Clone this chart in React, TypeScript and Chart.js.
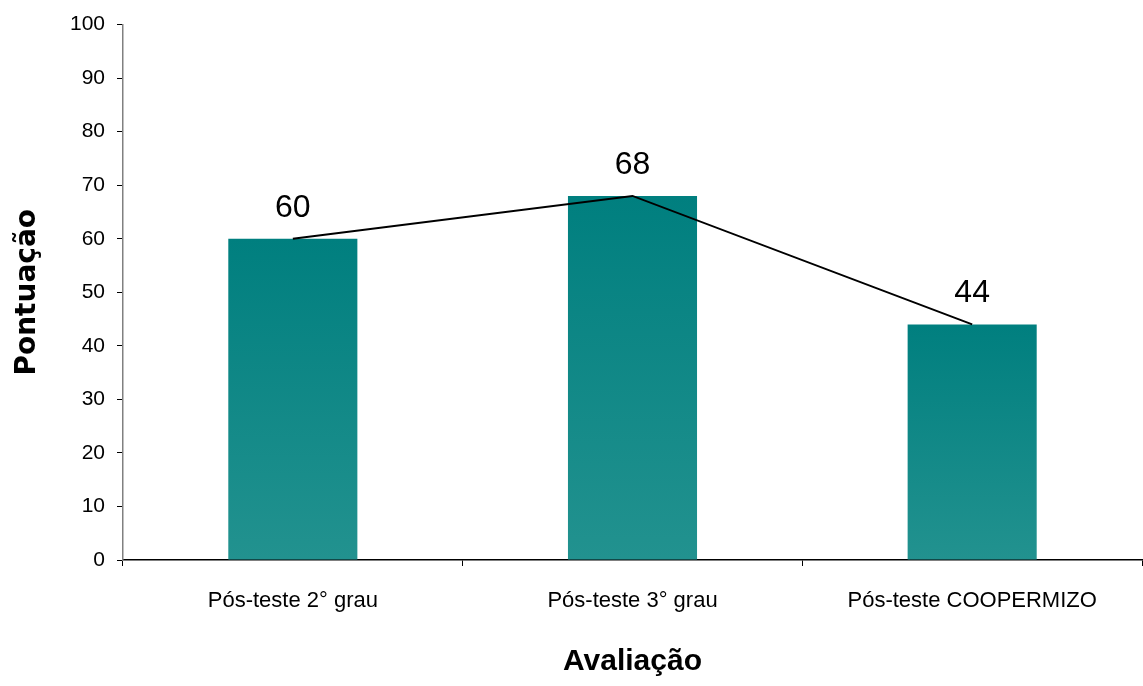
import React, { useEffect, useRef } from "react";
import { Chart, registerables } from "chart.js";

Chart.register(...registerables);

const categories = ["Pós-teste 2° grau", "Pós-teste 3° grau", "Pós-teste COOPERMIZO"];
const scores = [60, 68, 44];
const yTicks = [0, 10, 20, 30, 40, 50, 60, 70, 80, 90, 100];
const yTitle = "Pontuação";
const xTitle = "Avaliação";

const valueLabels = {
  id: "valueLabels",
  afterDatasetsDraw(chart: any) {
    const ctx = chart.ctx;
    const meta = chart.getDatasetMeta(0);
    ctx.save();
    ctx.font = "32px 'Liberation Sans', Arial, sans-serif";
    ctx.fillStyle = "#000";
    ctx.textAlign = "center";
    ctx.textBaseline = "alphabetic";
    meta.data.forEach((el: any, i: number) => {
      ctx.fillText(String(scores[i]), el.x, el.y - 22);
    });
    ctx.restore();
  },
};

export default function App() {
  const ref = useRef<HTMLCanvasElement>(null);
  useEffect(() => {
    const canvas = ref.current!;
    const chart = new Chart(canvas, {
      type: "bar",
      data: {
        labels: categories,
        datasets: [
          {
            type: "bar",
            data: scores,
            barPercentage: 0.76,
            categoryPercentage: 0.5,
            backgroundColor: (c: any) => {
              const ch = c.chart;
              const ys = ch.scales && ch.scales.y;
              if (!ys || c.raw == null) return "#0f8a88";
              const top = ys.getPixelForValue(c.raw);
              const bottom = ys.getPixelForValue(0);
              if (!isFinite(top) || !isFinite(bottom) || top === bottom) return "#0f8a88";
              const g = ch.ctx.createLinearGradient(0, top, 0, bottom);
              g.addColorStop(0, "#007f7f");
              g.addColorStop(1, "#22928f");
              return g;
            },
            borderWidth: 0,
            order: 2,
          },
          {
            type: "line",
            data: scores,
            borderColor: "#000",
            borderWidth: 2,
            pointRadius: 0,
            fill: false,
            tension: 0,
            order: 1,
          } as any,
        ],
      },
      options: {
        responsive: false,
        animation: false,
        layout: { padding: { top: 23, right: 1, bottom: 0, left: 0 } },
        plugins: { legend: { display: false }, tooltip: { enabled: false } },
        scales: {
          x: {
            offset: true,
            grid: {
              offset: true,
              drawOnChartArea: false,
              drawTicks: true,
              tickLength: 6,
              color: "#000",
            },
            border: { color: "#000", width: 1.5 },
            ticks: {
              color: "#000",
              padding: 22,
              maxRotation: 0,
              font: { family: "'Liberation Sans', Arial, sans-serif", size: 22 },
            },
            title: {
              display: true,
              text: xTitle,
              color: "#000",
              font: { family: "'Liberation Sans', Arial, sans-serif", size: 30, weight: "bold" },
              padding: { top: 0, bottom: 6 },
            },
            afterFit: (s: any) => {
              s.height = 126;
            },
          },
          y: {
            min: 0,
            max: 100,
            afterBuildTicks: (s: any) => {
              s.ticks = yTicks.map((v) => ({ value: v }));
            },
            grid: {
              drawOnChartArea: false,
              drawTicks: true,
              tickLength: 6,
              color: "#000",
            },
            border: { color: "#808080", width: 1.5 },
            ticks: {
              color: "#000",
              padding: 12,
              font: { family: "'Liberation Sans', Arial, sans-serif", size: 21 },
            },
            title: {
              display: true,
              text: yTitle,
              color: "#000",
              font: { family: "'DejaVu Sans', sans-serif", size: 28, weight: "bold" },
              padding: { top: 11, bottom: 0 },
            },
            afterFit: (s: any) => {
              s.width = 123;
            },
          },
        },
      },
      plugins: [valueLabels],
    });
    return () => chart.destroy();
  }, []);
  return (
    <div style={{ position: "fixed", left: 0, top: 0, width: 1143, height: 686, background: "#fff" }}>
      <canvas ref={ref} width={1143} height={686} style={{ display: "block" }} />
    </div>
  );
}
